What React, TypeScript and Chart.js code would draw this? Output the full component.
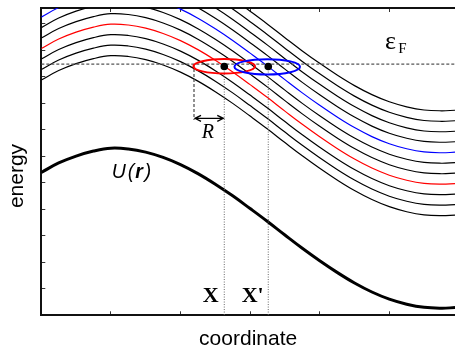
import React, { useEffect, useRef } from "react";
import { Chart, registerables } from "chart.js";

Chart.register(...registerables);

// ---- data (axis units: one tick = one unit) ----
const X_MAX = 5.944;
const Y_MAX = 11.6;
const COORD = [0, 0.25, 0.5, 0.75, 1, 1.25, 1.5, 1.75, 2, 2.25, 2.5, 2.75, 3, 3.25, 3.5, 3.75, 4, 4.25, 4.5, 4.75, 5, 5.25, 5.5, 5.75, 5.944];
const U_VALUES = [5.39, 5.75, 6.01, 6.2, 6.31, 6.28, 6.16, 5.96, 5.69, 5.35, 4.95, 4.51, 4.03, 3.54, 3.03, 2.53, 2.06, 1.62, 1.22, 0.88, 0.61, 0.42, 0.3, 0.27, 0.29];
const BAND_SHIFTS = [3.49, 3.886, 4.282, 4.678, 5.074, 5.47, 5.866, 6.262, 6.658, 7.054, 7.45];
const BAND_COLORS = ["#000000", "#000000", "#000000", "#ff0000", "#000000", "#000000", "#0000ff", "#000000", "#000000", "#000000", "#000000"];
const FERMI_LEVEL = 9.483;
const SITE_X = [2.629, 3.261];
const SITE_Y = [9.39, 9.39];
const SITE_LABELS = ["X", "X'"];
const ELLIPSE_CX = [2.628, 3.246];
const ELLIPSE_CY = [9.4, 9.38];
const ELLIPSE_RX = [0.443, 0.471];
const ELLIPSE_RY = [0.272, 0.29];
const ELLIPSE_COLORS = ["#ff0000", "#0000ff"];
const R_LEFT_X = 2.194;
const R_LINE_BOTTOM = 7.37;
const R_ARROW_Y = 7.434;

const SANS = "'Liberation Sans', Arial, sans-serif";
const SERIF = "'Liberation Serif', 'Times New Roman', serif";

const annotations = {
  id: "annotations",
  afterDatasetsDraw(chart: any) {
    const { ctx } = chart;
    const xs = chart.scales.x;
    const ys = chart.scales.y;
    const px = (v: number) => xs.getPixelForValue(v);
    const py = (v: number) => ys.getPixelForValue(v);
    ctx.save();
    // ellipses
    for (let i = 0; i < ELLIPSE_CX.length; i++) {
      const cx = px(ELLIPSE_CX[i]);
      const cy = py(ELLIPSE_CY[i]);
      const rx = Math.abs(px(ELLIPSE_CX[i] + ELLIPSE_RX[i]) - cx);
      const ry = Math.abs(py(ELLIPSE_CY[i] + ELLIPSE_RY[i]) - cy);
      ctx.beginPath();
      ctx.ellipse(cx, cy, rx, ry, 0, 0, Math.PI * 2);
      ctx.strokeStyle = ELLIPSE_COLORS[i];
      ctx.lineWidth = 2;
      ctx.stroke();
    }
    // dots on top
    for (let i = 0; i < SITE_X.length; i++) {
      ctx.beginPath();
      ctx.arc(px(SITE_X[i]), py(SITE_Y[i]), 3.8, 0, Math.PI * 2);
      ctx.fillStyle = "#000";
      ctx.fill();
    }
    // R arrow
    const ax1 = px(R_LEFT_X) + 1;
    const ax2 = px(SITE_X[0]) - 1;
    const ay = py(R_ARROW_Y);
    ctx.strokeStyle = "#000";
    ctx.lineWidth = 1.3;
    ctx.beginPath();
    ctx.moveTo(ax1, ay);
    ctx.lineTo(ax2, ay);
    ctx.moveTo(ax1 + 6, ay - 3);
    ctx.lineTo(ax1, ay);
    ctx.lineTo(ax1 + 6, ay + 3);
    ctx.moveTo(ax2 - 6, ay - 3);
    ctx.lineTo(ax2, ay);
    ctx.lineTo(ax2 - 6, ay + 3);
    ctx.stroke();

    ctx.fillStyle = "#000";
    ctx.textBaseline = "alphabetic";
    ctx.textAlign = "left";
    // R label
    ctx.font = `italic 20px ${SERIF}`;
    ctx.fillText("R", px(2.305), py(6.68));
    // site labels
    ctx.font = `bold 22px ${SERIF}`;
    ctx.fillText(SITE_LABELS[0], px(2.319), py(0.513));
    ctx.fillText(SITE_LABELS[1], px(2.879), py(0.513));
    // U(r)
    let ux = px(1.011);
    const uy = py(5.17);
    ctx.font = `italic 19.5px ${SANS}`;
    ctx.fillText("U", ux, uy);
    ux += ctx.measureText("U").width + 2;
    ctx.fillText("(", ux, uy);
    ux += ctx.measureText("(").width + 1;
    ctx.font = `italic bold 19.5px ${SANS}`;
    ctx.fillText("r", ux, uy);
    ux += ctx.measureText("r").width + 2;
    ctx.font = `italic 19.5px ${SANS}`;
    ctx.fillText(")", ux, uy);
    // epsilon_F
    ctx.font = `26px ${SERIF}`;
    ctx.fillText("\u03b5", px(4.938), py(10.07));
    ctx.font = `15px ${SERIF}`;
    ctx.fillText("F", px(5.13), py(9.89));
    ctx.restore();
  },
  afterDraw(chart: any) {
    const { ctx, chartArea } = chart;
    ctx.save();
    ctx.fillStyle = "#000";
    ctx.font = `21px ${SANS}`;
    ctx.textAlign = "center";
    ctx.textBaseline = "alphabetic";
    ctx.fillText("coordinate", (chartArea.left + chartArea.right) / 2, 345);
    ctx.translate(22.5, 176);
    ctx.rotate(-Math.PI / 2);
    ctx.fillText("energy", 0, 0);
    ctx.restore();
  },
};

export default function App() {
  const ref = useRef<HTMLCanvasElement | null>(null);
  useEffect(() => {
    if (!ref.current) return;
    const pts = (shift: number) => COORD.map((c, i) => ({ x: c, y: U_VALUES[i] + shift }));
    const datasets: any[] = [];
    datasets.push({
      data: [{ x: 0, y: FERMI_LEVEL }, { x: X_MAX, y: FERMI_LEVEL }],
      borderColor: "#555",
      borderWidth: 1.3,
      borderDash: [3, 2],
      pointRadius: 0,
      tension: 0,
    });
    datasets.push({
      data: [{ x: R_LEFT_X, y: FERMI_LEVEL }, { x: R_LEFT_X, y: R_LINE_BOTTOM }],
      borderColor: "#555",
      borderWidth: 1.3,
      borderDash: [3, 2],
      pointRadius: 0,
      tension: 0,
    });
    for (let i = 0; i < SITE_X.length; i++) {
      datasets.push({
        data: [{ x: SITE_X[i], y: SITE_Y[i] }, { x: SITE_X[i], y: 0 }],
        borderColor: "#666",
        borderWidth: 1,
        borderDash: [1, 1.5],
        pointRadius: 0,
        tension: 0,
      });
    }
    BAND_SHIFTS.forEach((s, i) => {
      datasets.push({
        data: pts(s),
        borderColor: BAND_COLORS[i],
        borderWidth: 1.2,
        pointRadius: 0,
        tension: 0.4,
      });
    });
    datasets.push({
      data: pts(0),
      borderColor: "#000",
      borderWidth: 3,
      pointRadius: 0,
      tension: 0.4,
    });

    const axisCommon = {
      type: "linear",
      ticks: { display: false, stepSize: 1, includeBounds: false },
      grid: { display: true, drawOnChartArea: false, drawTicks: true, tickLength: -4, color: "#333", lineWidth: 1 },
      border: { display: true, color: "#111", width: 2 },
    };
    const chart = new Chart(ref.current, {
      type: "line",
      data: { datasets },
      options: {
        animation: false,
        responsive: true,
        maintainAspectRatio: false,
        layout: { padding: { top: 8, right: 0, left: 0, bottom: 0 } },
        plugins: { legend: { display: false }, tooltip: { enabled: false } },
        datasets: { line: { clip: 0, fill: false } },
        scales: {
          x: { ...axisCommon, position: "bottom", min: 0, max: X_MAX, afterFit: (s: any) => { s.height = 34.7; } },
          x2: { ...axisCommon, position: "top", min: 0, max: X_MAX, afterFit: (s: any) => { s.height = 0; } },
          y: { ...axisCommon, position: "left", min: 0, max: Y_MAX, afterFit: (s: any) => { s.width = 41.3; } },
        },
      } as any,
      plugins: [annotations],
    });
    return () => chart.destroy();
  }, []);
  return (
    <div style={{ position: "fixed", left: 0, top: 0, width: 455, height: 350, background: "#fff" }}>
      <canvas ref={ref} />
    </div>
  );
}
